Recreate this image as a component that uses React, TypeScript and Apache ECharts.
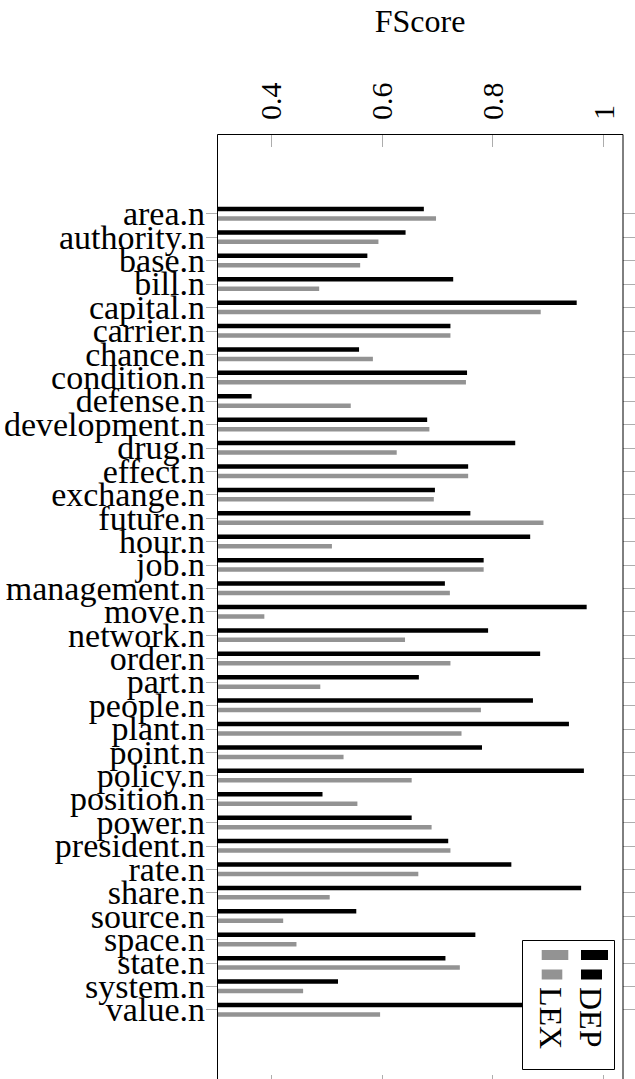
import React, { useEffect, useRef } from "react";
import * as echarts from "echarts";

const categories = [
  "area.n", "authority.n", "base.n", "bill.n", "capital.n", "carrier.n", "chance.n",
  "condition.n", "defense.n", "development.n", "drug.n", "effect.n", "exchange.n",
  "future.n", "hour.n", "job.n", "management.n", "move.n", "network.n", "order.n",
  "part.n", "people.n", "plant.n", "point.n", "policy.n", "position.n", "power.n",
  "president.n", "rate.n", "share.n", "source.n", "space.n", "state.n", "system.n", "value.n",
];

const depValues = [
  0.676, 0.643, 0.574, 0.729, 0.952, 0.724, 0.559, 0.754, 0.365, 0.682, 0.841, 0.756,
  0.696, 0.760, 0.868, 0.784, 0.714, 0.970, 0.792, 0.886, 0.667, 0.873, 0.938, 0.781,
  0.965, 0.493, 0.654, 0.720, 0.834, 0.960, 0.554, 0.769, 0.715, 0.521, 0.93,
];

const lexValues = [
  0.698, 0.594, 0.561, 0.487, 0.887, 0.724, 0.584, 0.752, 0.544, 0.686, 0.627, 0.756,
  0.694, 0.892, 0.510, 0.784, 0.723, 0.388, 0.642, 0.724, 0.489, 0.779, 0.744, 0.531,
  0.654, 0.556, 0.690, 0.724, 0.666, 0.506, 0.422, 0.446, 0.741, 0.458, 0.597,
];

const xTickValues = [0.4, 0.6, 0.8, 1];
const seriesNames = ["DEP", "LEX"];
const axisTitle = "FScore";

const FONT = "'Liberation Serif', 'Times New Roman', serif";
const DEP_COLOR = "#000000";
const LEX_COLOR = "#939393";
const TICK_COLOR = "#adadad";

export default function App() {
  const ref = useRef<HTMLDivElement>(null);

  useEffect(() => {
    if (!ref.current) return;
    const chart = echarts.init(ref.current, null, { renderer: "svg" });

    const xMin = 0.3025;
    const xMax = 1.0356;

    const option: any = {
      animation: false,
      backgroundColor: "#ffffff",
      grid: { left: 217, right: 12, top: 202, bottom: 57.6, containLabel: false },
      xAxis: [
        {
          type: "value",
          position: "top",
          min: xMin,
          max: xMax,
          offset: 68,
          axisLine: { show: false },
          splitLine: { show: false },
          axisTick: {
            show: true,
            inside: true,
            length: 13,
            customValues: xTickValues,
            lineStyle: { color: TICK_COLOR, width: 1 },
          },
          axisLabel: {
            customValues: xTickValues,
            rotate: -90,
            margin: 14,
            fontFamily: FONT,
            fontSize: 30,
            color: "#000",
          },
          name: axisTitle,
          nameLocation: "middle",
          nameGap: 97,
          nameTextStyle: { fontFamily: FONT, fontSize: 32, color: "#000" },
        },
        {
          type: "value",
          position: "bottom",
          min: xMin,
          max: xMax,
          offset: 66.6,
          axisLine: { show: false },
          splitLine: { show: false },
          axisTick: {
            show: true,
            inside: true,
            length: 13,
            customValues: xTickValues,
            lineStyle: { color: TICK_COLOR, width: 1 },
          },
          axisLabel: { show: false },
        },
      ],
      yAxis: [
        {
          type: "category",
          data: categories,
          inverse: true,
          axisLine: { show: false },
          axisTick: {
            show: true,
            alignWithLabel: true,
            length: 11,
            lineStyle: { color: TICK_COLOR, width: 1 },
          },
          axisLabel: {
            margin: 12,
            fontFamily: FONT,
            fontSize: 34,
            color: "#000",
            interval: 0,
          },
        },
        {
          type: "category",
          data: categories,
          inverse: true,
          position: "right",
          axisLine: { show: false },
          axisTick: {
            show: true,
            alignWithLabel: true,
            length: 12,
            lineStyle: { color: TICK_COLOR, width: 1 },
          },
          axisLabel: { show: false },
        },
      ],
      series: [
        {
          type: "bar",
          name: seriesNames[0],
          data: depValues,
          xAxisIndex: 0,
          yAxisIndex: 0,
          barWidth: 4.5,
          barGap: "110%",
          itemStyle: { color: DEP_COLOR },
        },
        {
          type: "bar",
          name: seriesNames[1],
          data: lexValues,
          xAxisIndex: 0,
          yAxisIndex: 0,
          barWidth: 4.5,
          barGap: "110%",
          itemStyle: { color: LEX_COLOR },
        },
      ],
      graphic: [
        {
          type: "rect",
          silent: true,
          z: 100,
          shape: { x: 217.5, y: 134.5, width: 405.5, height: 953 },
          style: { fill: "none", stroke: "#000", lineWidth: 1 },
        },
        {
          type: "rect",
          silent: true,
          z: 110,
          shape: { x: 522.5, y: 940.5, width: 92, height: 129 },
          style: { fill: "#fff", stroke: "#000", lineWidth: 1 },
        },
        {
          type: "rect",
          silent: true,
          z: 111,
          shape: { x: 581, y: 950, width: 27, height: 10 },
          style: { fill: DEP_COLOR },
        },
        {
          type: "rect",
          silent: true,
          z: 111,
          shape: { x: 581, y: 969.5, width: 21, height: 10 },
          style: { fill: DEP_COLOR },
        },
        {
          type: "rect",
          silent: true,
          z: 111,
          shape: { x: 541.7, y: 950, width: 26.6, height: 10 },
          style: { fill: LEX_COLOR },
        },
        {
          type: "rect",
          silent: true,
          z: 111,
          shape: { x: 541.7, y: 969.5, width: 20.6, height: 10 },
          style: { fill: LEX_COLOR },
        },
        {
          type: "text",
          silent: true,
          z: 111,
          x: 591,
          y: 987,
          rotation: -Math.PI / 2,
          style: {
            text: seriesNames[0],
            font: `32px ${FONT}`,
            fill: "#000",
            textAlign: "left",
            textVerticalAlign: "middle",
          },
        },
        {
          type: "text",
          silent: true,
          z: 111,
          x: 551,
          y: 987,
          rotation: -Math.PI / 2,
          style: {
            text: seriesNames[1],
            font: `32px ${FONT}`,
            fill: "#000",
            textAlign: "left",
            textVerticalAlign: "middle",
          },
        },
      ],
    };

    chart.setOption(option);
    return () => chart.dispose();
  }, []);

  return (
    <div
      ref={ref}
      style={{ position: "absolute", left: 0, top: 0, width: 635, height: 1079 }}
    />
  );
}
